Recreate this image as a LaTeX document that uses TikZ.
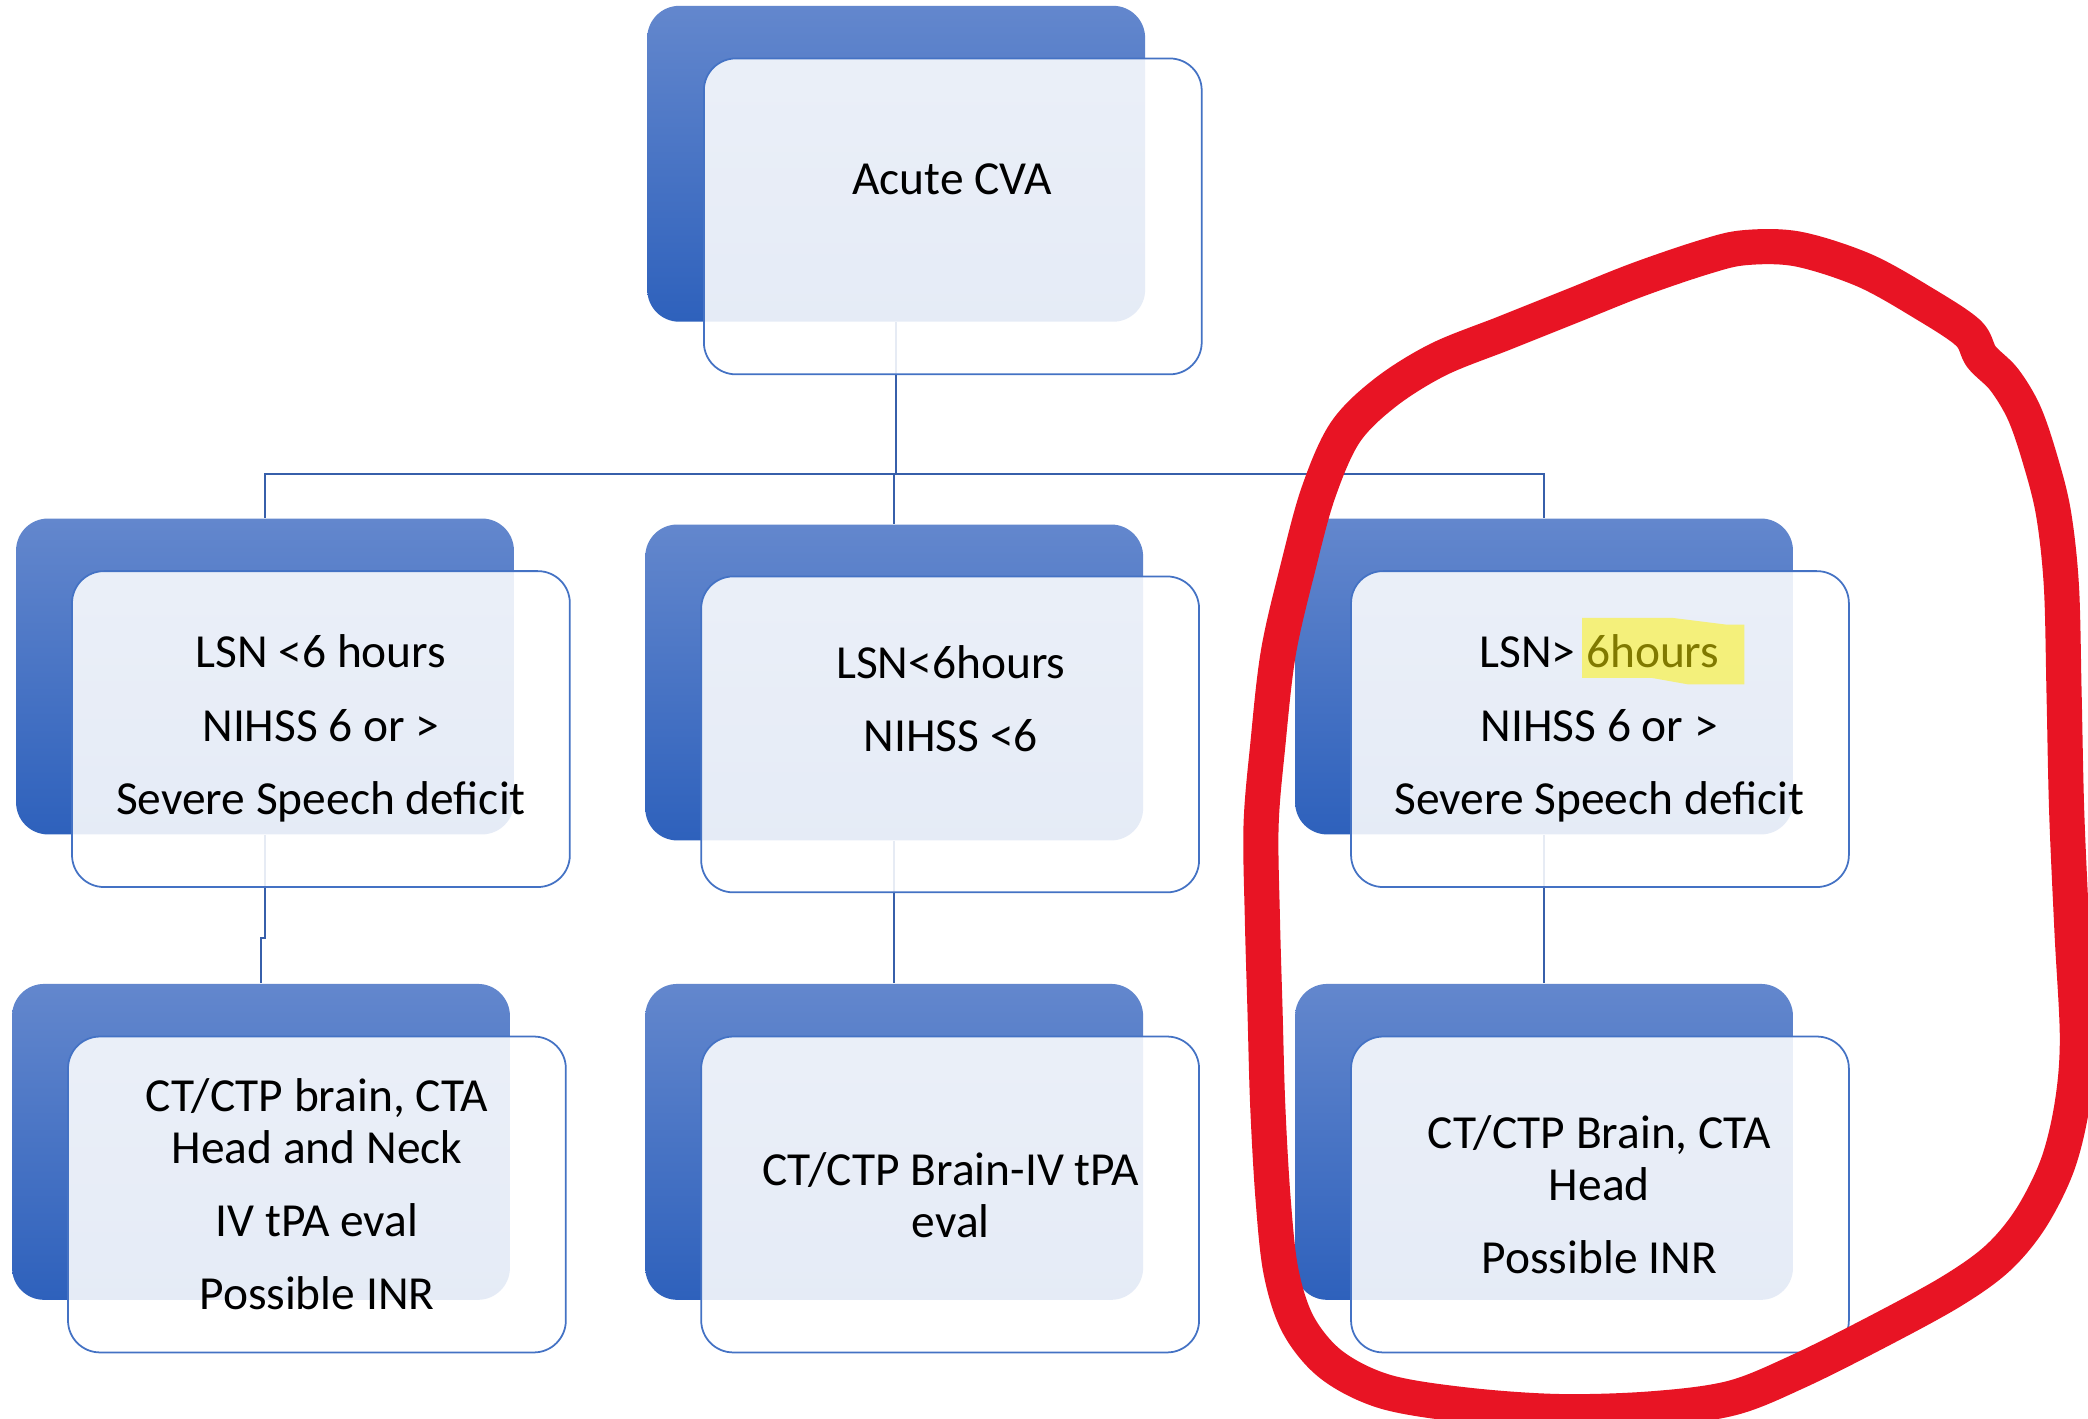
\documentclass[tikz,border=0pt]{standalone}
\usepackage{fontspec}
\setmainfont{Carlito}
\usepackage{tikz}
\usetikzlibrary{arrows.meta, positioning, calc}
\usepackage{xcolor}
\definecolor{boxtop}{RGB}{99,135,205}
\definecolor{boxbot}{RGB}{46,97,188}
\definecolor{edgeblue}{RGB}{68,114,196}
\definecolor{linkblue}{RGB}{55,95,170}
\definecolor{markred}{RGB}{232,20,36}

\begin{document}
\begin{tikzpicture}[
  x=0.013316cm, y=-0.013316cm,
  back/.style={rectangle, rounded corners=0.32cm,
               top color=boxtop, bottom color=boxbot,
               minimum width=4.98cm, minimum height=3.16cm, inner sep=0pt},
  front/.style={rectangle, rounded corners=0.32cm, draw=edgeblue, line width=0.5pt,
                fill=white, fill opacity=0.88,
                minimum width=4.98cm, minimum height=3.16cm, inner sep=0pt},
  txt/.style={align=center, font=\fontsize{13.5}{14.8}\selectfont},
  link/.style={draw=linkblue, line width=0.5pt},
  marker/.style={draw=markred, line width=10pt, line cap=round, line join=round}
]
\path[use as bounding box, fill=white] (0,0) rectangle (1568,1065);

% back plates
\node[back] (cva)  at (673,   123)   {};
\node[back] (lsn1) at (199,   508)   {};
\node[back] (lsn2) at (671.5, 512.5) {};
\node[back] (lsn3) at (1159.5,508)   {};
\node[back] (ct1)  at (196,   857.5) {};
\node[back] (ct2)  at (671.5, 857.5) {};
\node[back] (ct3)  at (1159.5,857.5) {};

% elbow links
\draw[link] (cva.south) -- ++(0,114) -| (lsn1.north);
\draw[link] (cva.south) -- ++(0,114) -| (lsn2.north);
\draw[link] (cva.south) -- ++(0,114) -| (lsn3.north);
\draw[link] (lsn1.south) -- ++(0,77) -| (ct1.north);
\draw[link] (lsn2.south) -- (ct2.north);
\draw[link] (lsn3.south) -- (ct3.north);

% front cards
\node[front] (cvaF)  at (715.5, 162.5) {};
\node[front] (lsn1F) at (241,   547.5) {};
\node[front] (lsn2F) at (713.5, 551.5) {};
\node[front] (lsn3F) at (1201.5,547.5) {};
\node[front] (ct1F)  at (238,   897)   {};
\node[front] (ct2F)  at (713.5, 897)   {};
\node[front] (ct3F)  at (1201.5,897)   {};

% labels
\node[txt] (cvaT)  at (715, 135)   {Acute CVA};
\node[txt] (lsn1T) at (241, 547)   {LSN <6 hours\\[6pt]NIHSS 6 or >\\[6pt]Severe Speech deficit};
\node[txt] (lsn2T) at (714, 524.5) {LSN<6hours\\[6pt]NIHSS <6};
\node[txt] (lsn3T) at (1201,547)   {LSN> 6hours\\[6pt]NIHSS 6 or >\\[6pt]Severe Speech deficit};
\node[txt] (ct1T)  at (238, 896.5) {CT/CTP brain, CTA\\Head and Neck\\[6pt]IV tPA eval\\[6pt]Possible INR};
\node[txt] (ct2T)  at (714, 897.5) {CT/CTP Brain-IV tPA\\eval};
\node[txt] (ct3T)  at (1201,897)   {CT/CTP Brain, CTA\\Head\\[6pt]Possible INR};

% highlighter over "6hours"
\fill[yellow, opacity=0.5] (1188,464) -- (1256,464) -- (1296,469) -- (1310,469)
  -- (1310,514) -- (1268,514) -- (1240,509) -- (1188,509) -- cycle;

% hand-drawn loop
\draw[marker] plot[smooth cycle, tension=0.55] coordinates {
  (1350,187) (1400,203) (1445,228) (1478,250) (1488,268) (1505,285)
  (1520,310) (1532,345) (1542,385) (1548,440) (1550,520) (1552,610)
  (1556,700) (1560,780) (1556,830) (1545,875) (1525,915) (1500,945)
  (1465,970) (1410,1000) (1350,1030) (1300,1050) (1240,1058) (1170,1060)
  (1100,1055) (1040,1045) (1000,1025) (975,995) (962,955) (956,900)
  (952,830) (950,760) (948,690) (947,620) (952,560) (960,490)
  (975,425) (990,370) (1010,325) (1040,295) (1080,270) (1130,250)
  (1180,230) (1230,210) (1280,193) (1310,186)};
\end{tikzpicture}
\end{document}
